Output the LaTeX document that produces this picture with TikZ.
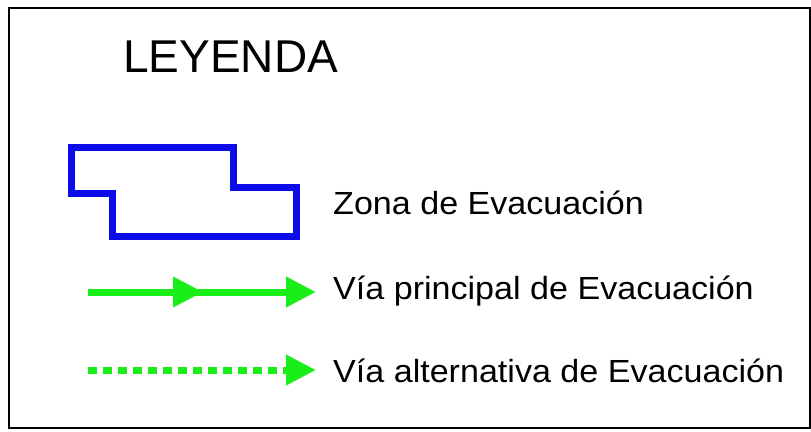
\documentclass[tikz,border=0pt]{standalone}
\usepackage{fontspec}
\setmainfont{Liberation Sans}
\usetikzlibrary{arrows.meta, positioning}
\definecolor{zoneblue}{RGB}{12,12,235}
\definecolor{waygreen}{RGB}{25,238,25}

\begin{document}
\begin{tikzpicture}[
    x=1pt, y=-1pt,
    frame/.style={draw=black, line width=2pt},
    zone/.style={draw=zoneblue, line width=7pt, line join=miter},
    mainway/.style={draw=waygreen, line width=7pt,
        -{Triangle[length=30pt,width=29pt]}},
    altway/.style={mainway, dash pattern=on 9pt off 6pt},
    legtext/.style={anchor=base west, inner sep=0pt, xscale=1.065,
        font=\fontsize{32}{38}\selectfont}
]
\useasboundingbox (0,0) rectangle (811,431);

% Frame
\draw [frame] (9,8) rectangle (810,428);

% Title
\node (title) [anchor=base west, inner sep=0pt,
    font=\fontsize{46}{55}\selectfont] at (123,72) {LEYENDA};

% Zone sample
\draw [zone] (71,147) -- (233,147) -- (233,187) -- (296,187)
    -- (296,236) -- (112,236) -- (112,193) -- (71,193) -- cycle;

% Way samples
\coordinate (mainstart) at (88,292);
\coordinate (mainmid) at (203,292);
\coordinate (mainend) at (316,292);
\coordinate (altstart) at (88,370);
\coordinate (altend) at (316,370);

\draw [mainway] (mainstart) -- (mainend);
\draw [mainway] (mainstart) -- (mainmid);
\draw [altway] (altstart) -- (altend);

% Labels
\node (zonelbl) [legtext] at (333,214) {Zona de Evacuación};
\node (mainlbl) [legtext] at (333,299) {Vía principal de Evacuación};
\node (altlbl) [legtext] at (333,382) {Vía alternativa de Evacuación};

\end{tikzpicture}
\end{document}
